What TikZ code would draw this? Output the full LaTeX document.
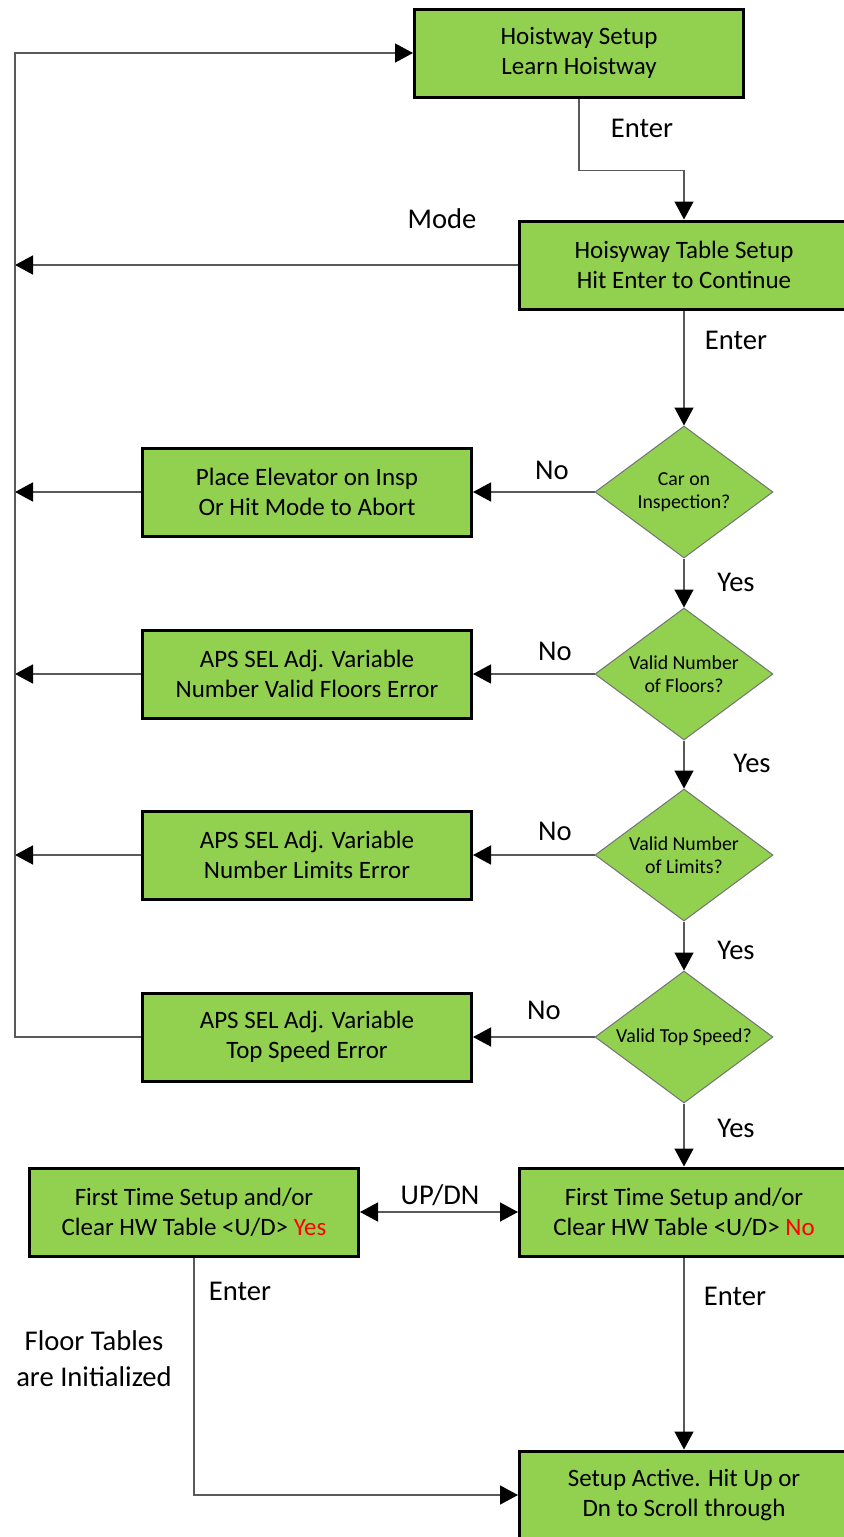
\documentclass[tikz,border=0pt]{standalone}
\usepackage{fontspec}
\setmainfont{Carlito}
\usepackage{xcolor}
\usepackage{tikz}
\usetikzlibrary{arrows.meta}
\usetikzlibrary{shapes,arrows}
\definecolor{boxgreen}{HTML}{92D050}
\tikzstyle{box} = [rectangle, draw=black, line width=1.5pt, fill=boxgreen, minimum width=164.5pt, minimum height=44pt, align=center, font=\fontsize{12.5}{15}\selectfont]
\tikzstyle{decision} = [diamond, draw=black!55, line width=0.5pt, fill=boxgreen, minimum width=89pt, minimum height=66pt, inner sep=0pt, shape aspect=1.35, align=center, font=\fontsize{9.9}{11.5}\selectfont]
\tikzstyle{wire} = [draw=black!65, line width=0.75pt]
\tikzstyle{arrow} = [wire, -{Triangle[length=9pt,width=9.5pt,color=black]}]
\tikzstyle{lbl} = [font=\fontsize{14.3}{18}\selectfont]

\begin{document}
\begin{tikzpicture}[x=0.5pt, y=-0.5pt]
    \useasboundingbox (0,0) rectangle (844,1537);
    \clip (0,0) rectangle (844,1537);

    % main column
    \node[box] (hw) at (579,53) {Hoistway Setup\\Learn Hoistway};
    \node[box] (tbl) at (684,265) {Hoisyway Table Setup\\Hit Enter to Continue};
    \node[decision] (insp) at (684,492) {Car on\\Inspection?};
    \node[decision] (floors) at (684,674) {Valid Number\\of Floors?};
    \node[decision] (limits) at (684,855) {Valid Number\\of Limits?};
    \node[decision] (speed) at (684,1037) {Valid Top Speed?};
    \node[box] (clrno) at (684,1212) {First Time Setup and/or\\Clear HW Table <U/D> \textcolor{red}{No}};
    \node[box] (active) at (684,1495) {Setup Active. Hit Up or\\Dn to Scroll through};

    % error boxes
    \node[box] (errinsp) at (307,492) {Place Elevator on Insp\\Or Hit Mode to Abort};
    \node[box] (errfloors) at (307,674) {APS SEL Adj. Variable\\Number Valid Floors Error};
    \node[box] (errlimits) at (307,855) {APS SEL Adj. Variable\\Number Limits Error};
    \node[box] (errspeed) at (307,1037) {APS SEL Adj. Variable\\Top Speed Error};
    \node[box] (clryes) at (194,1212) {First Time Setup and/or\\Clear HW Table <U/D> \textcolor{red}{Yes}};

    \coordinate (rtop) at (15,53);
    \coordinate (rbot) at (15,1037);

    % labels
    \node[lbl] (e1) at (642,128) {Enter};
    \node[lbl] (mode) at (442,219) {Mode};
    \node[lbl] (e2) at (736,340) {Enter};
    \node[lbl] (n1) at (552,470) {No};
    \node[lbl] (n2) at (555,651) {No};
    \node[lbl] (n3) at (555,831) {No};
    \node[lbl] (n4) at (544,1010) {No};
    \node[lbl] (y1) at (736,582) {Yes};
    \node[lbl] (y2) at (752,763) {Yes};
    \node[lbl] (y3) at (736,950) {Yes};
    \node[lbl] (y4) at (736,1128) {Yes};
    \node[lbl] (updn) at (440,1195) {UP/DN};
    \node[lbl] (e3) at (240,1291) {Enter};
    \node[lbl] (e4) at (735,1296) {Enter};
    \node[lbl, align=center, font=\fontsize{14.3}{18}\selectfont] (init) at (94,1359) {Floor Tables\\are Initialized};

    % connectors
    \draw[arrow] (hw.south) -- ++(0,72) -| (tbl.north);
    \draw[arrow] (tbl.south) -- (insp.north);
    \draw[arrow] (insp.south) -- (floors.north);
    \draw[arrow] (floors.south) -- (limits.north);
    \draw[arrow] (limits.south) -- (speed.north);
    \draw[arrow] (speed.south) -- (clrno.north);
    \draw[arrow] (clrno.south) -- (active.north);

    \draw[arrow] (insp.west) -- (errinsp.east);
    \draw[arrow] (floors.west) -- (errfloors.east);
    \draw[arrow] (limits.west) -- (errlimits.east);
    \draw[arrow] (speed.west) -- (errspeed.east);

    \draw[arrow] (tbl.west) -- (tbl.west -| rtop);
    \draw[arrow] (errinsp.west) -- (errinsp.west -| rtop);
    \draw[arrow] (errfloors.west) -- (errfloors.west -| rtop);
    \draw[arrow] (errlimits.west) -- (errlimits.west -| rtop);
    \draw[arrow] (errspeed.west) -- (rbot) -- (rtop) -- (hw.west);

    \draw[wire, {Triangle[length=9pt,width=9.5pt,color=black]}-{Triangle[length=9pt,width=9.5pt,color=black]}] (clryes.east) -- (clrno.west);
    \draw[arrow] (clryes.south) |- (active.west);
\end{tikzpicture}
\end{document}
